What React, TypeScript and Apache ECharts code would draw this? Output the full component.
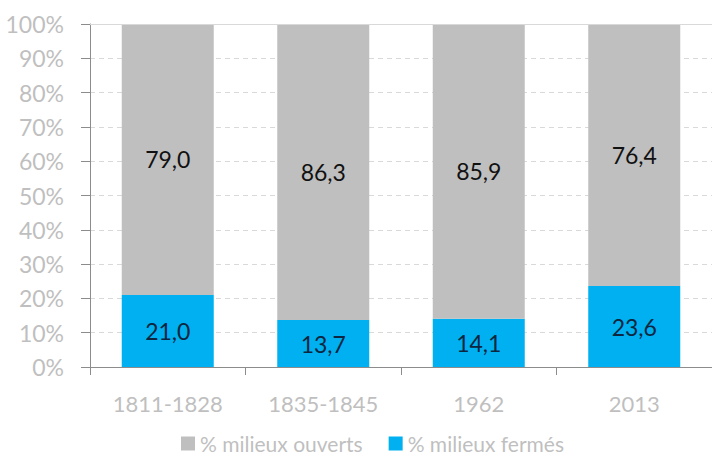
import React, { useEffect, useRef } from "react";
import * as echarts from "echarts";

const categories = ["1811-1828", "1835-1845", "1962", "2013"];
const fermes = [21.0, 13.7, 14.1, 23.6];
const ouverts = [79.0, 86.3, 85.9, 76.4];
const seriesNames = ["% milieux ouverts", "% milieux fermés"];

const FONT = "Lato";

export default function App() {
  const ref = useRef<HTMLDivElement>(null);
  useEffect(() => {
    if (!ref.current) return;
    const chart = echarts.init(ref.current, null, { renderer: "svg" });
    const fmt = (p: any) => Number(p.value).toFixed(1).replace(".", ",");
    chart.setOption({
      animation: false,
      backgroundColor: "#ffffff",
      textStyle: { fontFamily: FONT },
      grid: { left: 90, right: -5, top: 24, bottom: 91 },
      legend: {
        left: 181,
        top: 433,
        padding: 0,
        itemWidth: 14,
        itemHeight: 14,
        itemGap: 26,
        icon: "rect",
        textStyle: { color: "#bfbfbf", fontSize: 21, lineHeight: 20, fontFamily: FONT },
        data: [seriesNames[0], seriesNames[1]],
      },
      xAxis: {
        type: "category",
        data: categories,
        axisLine: { lineStyle: { color: "#8c8c8c", width: 1 } },
        axisTick: { show: true, length: 8, lineStyle: { color: "#8c8c8c" } },
        axisLabel: { color: "#bfbfbf", fontSize: 22, margin: 25, fontFamily: FONT },
      },
      yAxis: {
        type: "value",
        min: 0,
        max: 100,
        interval: 10,
        axisLine: { show: true, lineStyle: { color: "#8c8c8c", width: 1 } },
        axisTick: { show: true, length: 9, lineStyle: { color: "#8c8c8c" } },
        axisLabel: {
          color: "#bfbfbf",
          fontSize: 23,
          margin: 26,
          fontFamily: FONT,
          formatter: "{value}%",
        },
        splitLine: { show: true, lineStyle: { color: "#d9d9d9", type: [5, 4] } },
      },
      series: [
        {
          name: seriesNames[1],
          type: "bar",
          stack: "total",
          data: fermes,
          barWidth: 92,
          itemStyle: { color: "#00b0f0" },
          label: {
            show: true,
            position: "inside",
            formatter: fmt,
            color: "#0c2640",
            fontSize: 23,
            fontFamily: FONT,
          },
        },
        {
          name: seriesNames[0],
          type: "bar",
          stack: "total",
          data: ouverts,
          barWidth: 92,
          itemStyle: { color: "#bfbfbf" },
          label: {
            show: true,
            position: "inside",
            formatter: fmt,
            color: "#111111",
            fontSize: 23,
            fontFamily: FONT,
          },
          markLine: {
            silent: true,
            symbol: "none",
            label: { show: false },
            lineStyle: { color: "#d9d9d9", type: "solid", width: 1 },
            data: [{ yAxis: 100 }],
          },
        },
      ],
    });
    return () => chart.dispose();
  }, []);
  return (
    <div
      ref={ref}
      style={{ position: "fixed", left: 0, top: 0, width: 712, height: 458 }}
    />
  );
}
